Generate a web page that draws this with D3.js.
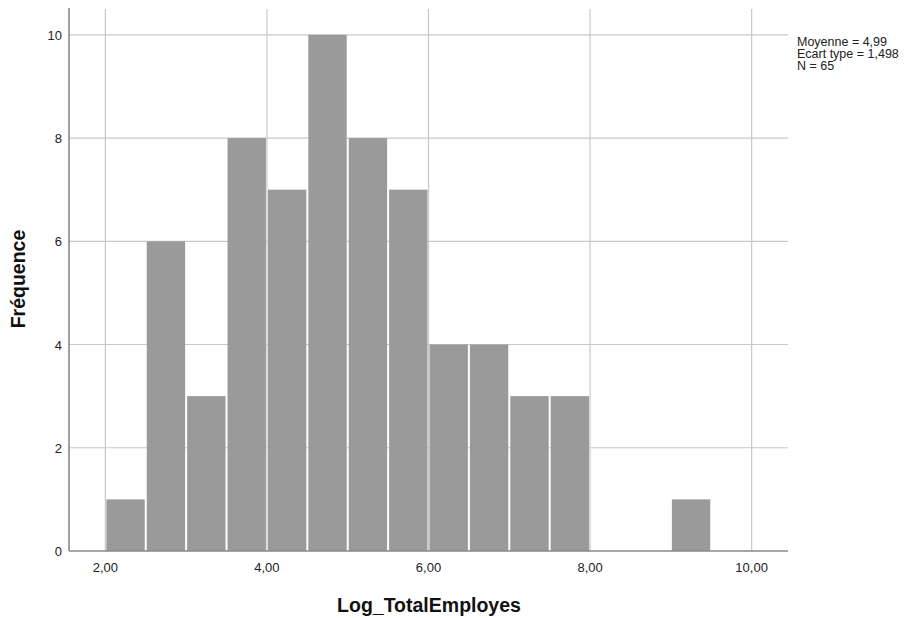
<!DOCTYPE html>
<html>
<head>
<meta charset="utf-8">
<script src="https://cdn.jsdelivr.net/npm/d3@7"></script>
<style>
  body { margin: 0; background: #fff; }
  svg { display: block; font-family: "Liberation Sans", Arial, sans-serif; }
</style>
</head>
<body>
<svg id="chart" width="912" height="618"></svg>
<script>
// histogram bins (width 0.5) and counts
var binStarts = [2.0, 2.5, 3.0, 3.5, 4.0, 4.5, 5.0, 5.5, 6.0, 6.5, 7.0, 7.5, 8.0, 8.5, 9.0, 9.5];
var counts    = [1,   6,   3,   8,   7,   10,  8,   7,   4,   4,   3,   3,   0,   0,   1,   0];
var binWidth = 0.5;
var xTicks = [2, 4, 6, 8, 10];
var yTicks = [0, 2, 4, 6, 8, 10];
var statLines = ["Moyenne = 4,99", "Ecart type = 1,498", "N = 65"];

(function() {
var svg = d3.select("#chart");
var pLeft = 69, pRight = 788, pTop = 9, pBottom = 551;

var x = d3.scaleLinear().domain([1.55, 10.45]).range([pLeft, pRight]);
var y = d3.scaleLinear().domain([0, 10.5]).range([pBottom, pTop]);
var fmt = function(d) { return d3.format(".2f")(d).replace(".", ","); };

var bins = binStarts.map(function(s, i) { return {x0: s, x1: s + binWidth, n: counts[i]}; })
  .filter(function(b) { return b.n > 0; });

// grid
var grid = svg.append("g").attr("stroke", "#c8c8c8").attr("stroke-width", 1.2);
grid.selectAll(".gy").data(yTicks.filter(function(d){ return d > 0; }))
  .enter().append("line")
  .attr("x1", pLeft).attr("x2", pRight)
  .attr("y1", function(d){ return y(d); }).attr("y2", function(d){ return y(d); });
grid.selectAll(".gx").data(xTicks)
  .enter().append("line")
  .attr("y1", pTop).attr("y2", pBottom)
  .attr("x1", function(d){ return x(d); }).attr("x2", function(d){ return x(d); });

// bars
svg.append("g").selectAll("rect").data(bins)
  .enter().append("rect")
  .attr("x", function(d){ return x(d.x0) + 1; })
  .attr("width", function(d){ return x(d.x1) - x(d.x0) - 2; })
  .attr("y", function(d){ return y(d.n); })
  .attr("height", function(d){ return pBottom - y(d.n); })
  .attr("fill", "#9a9a9a");

// axes lines
svg.append("line").attr("x1", pLeft).attr("x2", pLeft).attr("y1", pTop - 1).attr("y2", pBottom)
  .attr("stroke", "#888").attr("stroke-width", 1.6);
svg.append("line").attr("x1", pLeft).attr("x2", pRight).attr("y1", pBottom).attr("y2", pBottom)
  .attr("stroke", "#888").attr("stroke-width", 1.6);

// tick labels
svg.append("g").selectAll("text").data(yTicks)
  .enter().append("text")
  .attr("x", pLeft - 7)
  .attr("y", function(d){ return y(d) + 5; })
  .attr("text-anchor", "end")
  .attr("font-size", 13)
  .attr("fill", "#222")
  .text(function(d){ return d; });

svg.append("g").selectAll("text").data(xTicks)
  .enter().append("text")
  .attr("x", function(d){ return x(d); })
  .attr("y", pBottom + 21)
  .attr("text-anchor", "middle")
  .attr("font-size", 13)
  .attr("fill", "#222")
  .text(fmt);

// axis titles
svg.append("text")
  .attr("transform", "translate(25,279) rotate(-90)")
  .attr("text-anchor", "middle")
  .attr("font-size", 19.5).attr("font-weight", "bold").attr("fill", "#111")
  .text("Fréquence");
svg.append("text")
  .attr("x", 429).attr("y", 612)
  .attr("text-anchor", "middle")
  .attr("font-size", 19.5).attr("font-weight", "bold").attr("fill", "#111")
  .text("Log_TotalEmployes");

// stats box
svg.append("g").selectAll("text").data(statLines)
  .enter().append("text")
  .attr("x", 797)
  .attr("y", function(d, i){ return 45.5 + i * 12.3; })
  .attr("font-size", 12.5)
  .attr("fill", "#222")
  .text(function(d){ return d; });
})();
</script>
</body>
</html>
